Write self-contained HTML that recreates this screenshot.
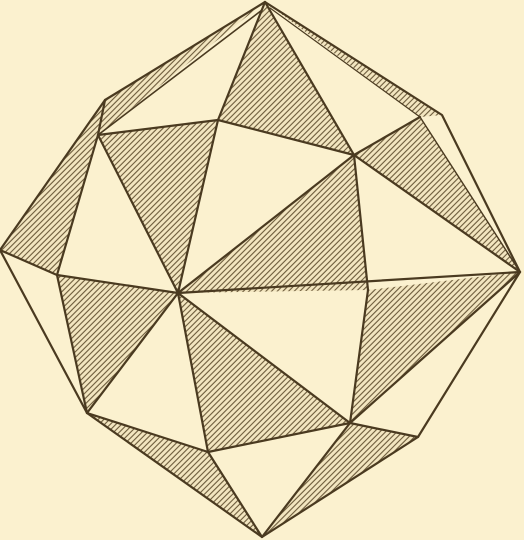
<!DOCTYPE html>
<html><head><meta charset="utf-8"><style>
html,body{margin:0;padding:0;background:#fbf1cf;}
svg{display:block;}
</style></head><body>
<svg width="524" height="540" viewBox="0 0 524 540">
<defs>
<pattern id="h" patternUnits="userSpaceOnUse" width="4" height="4" patternTransform="rotate(-45)">
<rect width="4" height="4" fill="#f3e6c0"/>
<line x1="0" y1="2" x2="4" y2="2" stroke="#6b5a3a" stroke-width="1.1"/>
</pattern>
</defs>
<rect width="524" height="540" fill="#fbf1cf"/>
<g fill="url(#h)" stroke="none">
<polygon points="265,2 218,120 354,155"/>
<polygon points="265,2 105,100 98,135"/>
<polygon points="218,120 98,135 178,293"/>
<polygon points="105,100 98,135 57,275 0,250"/>
<polygon points="354,155 178,293 368,290"/>
<polygon points="354,155 420,117 520,272"/>
<polygon points="265,2 442,115 420,117"/>
<polygon points="57,275 178,293 87,413"/>
<polygon points="178,293 208,452 350,423"/>
<polygon points="368,290 520,272 350,423"/>
<polygon points="87,413 208,452 262,537"/>
<polygon points="350,423 418,437 262,537"/>
</g>
<g stroke="#4a3a20" stroke-width="2.2" fill="none" stroke-linejoin="round" stroke-linecap="round">
<polyline points="265,2 105,100 0,250 87,413 262,537 418,437 520,272 442,115 265,2"/>
<line x1="262" y1="10" x2="98" y2="135" stroke-width="1.6"/>
<line x1="270" y1="8" x2="420" y2="117" stroke-width="1.2"/>
<line x1="265" y1="2" x2="218" y2="120"/>
<line x1="265" y1="2" x2="354" y2="155"/>
<line x1="218" y1="120" x2="98" y2="135"/>
<line x1="98" y1="135" x2="105" y2="100"/>
<line x1="218" y1="120" x2="354" y2="155"/>
<line x1="354" y1="155" x2="420" y2="117"/>
<line x1="420" y1="117" x2="520" y2="272" stroke-width="1.4"/>
<line x1="354" y1="155" x2="520" y2="272"/>
<line x1="98" y1="135" x2="57" y2="275"/>
<line x1="98" y1="135" x2="178" y2="293"/>
<line x1="218" y1="120" x2="178" y2="293"/>
<line x1="178" y1="293" x2="354" y2="155"/>
<line x1="0" y1="250" x2="57" y2="275"/>
<line x1="57" y1="275" x2="178" y2="293"/>
<line x1="178" y1="293" x2="520" y2="272"/>
<line x1="354" y1="155" x2="368" y2="290"/>
<line x1="368" y1="290" x2="350" y2="423"/>
<line x1="57" y1="275" x2="87" y2="413"/>
<line x1="178" y1="293" x2="87" y2="413"/>
<line x1="178" y1="293" x2="208" y2="452"/>
<line x1="178" y1="293" x2="350" y2="423"/>
<line x1="87" y1="413" x2="208" y2="452"/>
<line x1="208" y1="452" x2="350" y2="423"/>
<line x1="208" y1="452" x2="262" y2="537"/>
<line x1="350" y1="423" x2="520" y2="272"/>
<line x1="350" y1="423" x2="418" y2="437"/>
<line x1="350" y1="423" x2="262" y2="537"/>
</g>
</svg>
</body></html>
